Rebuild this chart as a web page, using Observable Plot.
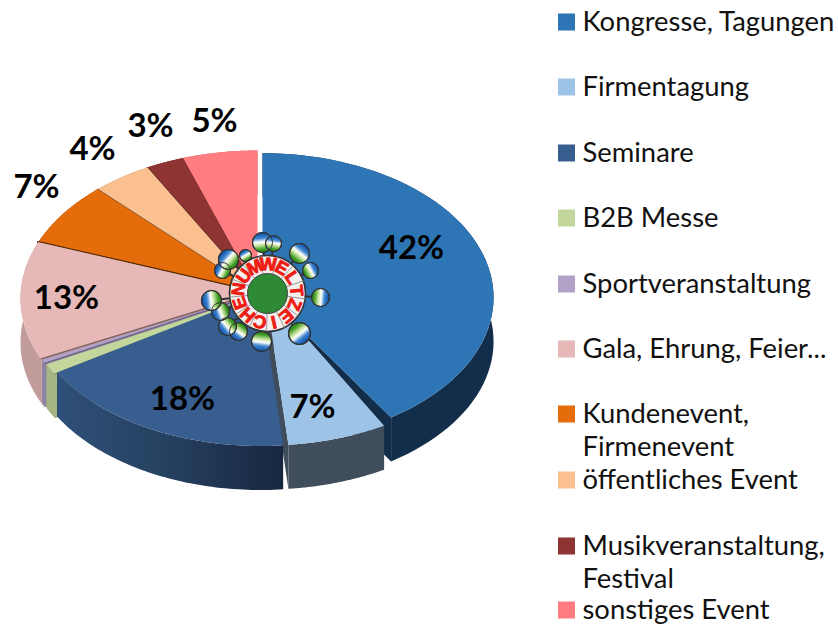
<!DOCTYPE html>
<html><head><meta charset="utf-8">
<script src="https://cdn.jsdelivr.net/npm/d3@7"></script>
<script src="https://cdn.jsdelivr.net/npm/@observablehq/plot@0.6"></script>
<style>html,body{margin:0;padding:0;background:#fff}svg{display:block}</style>
</head><body><div id="chart"></div>
<script>
// ---- data ----
const categories = ["Kongresse, Tagungen","Firmentagung","Seminare","B2B Messe","Sportveranstaltung","Gala, Ehrung, Feier...","Kundenevent,\nFirmenevent","öffentliches Event","Musikveranstaltung,\nFestival","sonstiges Event"];
const shares = [41.67, 6.8, 18.25, 1.2, 0.4, 12.9, 7, 4.1, 2.6, 5.1];
const labels = ["42%","7%","18%","","","13%","7%","4%","3%","5%"];
const colors = ["#2e75b6","#9dc3e6","#375e8f","#c3d69b","#b2a2c7","#e6b9b8","#e46c0a","#fac090","#8e3533","#ff7c80"];
const wallColors = ["#132e4b","#3f4d5c","url(#semWall)","#a6b584","#8f83a3","#c29c9b","#8a4a10","#c09070","#5e2322","#c05f61"];
const edgeColors = ["none","none","none","#7f8f5a","#6e6484","#7d5f5e","#5a2c05","#6b5545","#4e2322","none"];
const legendY = [22,87,153,218,284,349,414,480,546,610];
const logoWord = "UMWELTZEICHEN";

// ---- layout (pixels) ----
const W = 838, H = 624;
const pie = {vx:257, vy:292, cx:257, cy:298, rx:237, ry:148, depth:44};
// dx, dy, radius factor, degrees trimmed from the end of the slice
const explode = [[5,-1,.975,3.8],[8,-1,1,0],[3,1,.99,0],[3,2,1,0],[1,1,1,0],[0,0,1,0],[0,0,1,0],[0,0,1,0],[0,0,1,0],[0,0,1,0]];
const labelPos = [[411,248],[312,407],[182,399],null,null,[66,298],[36,187],[92,149],[150,126],[214,121]];
const drawOrder = [9,8,7,6,5,4,3,0,1,2];
const logo = {x:267, y:293, rOuter:38, rInner:20, rText:29};
const globes = [[262,242,10],[273,243,8],[299,253,10],[310,270,8],[320,297,9],[299,333,11],[261,341,10],[238,331,9],[227,326,9],[220,311,9],[211,300,10],[222,270,8],[228,259,10],[245,255,6]];

const total = d3.sum(shares);
const cum = d3.cumsum(shares);
const slices = shares.map((s,i)=>{
  const [dx,dy,k,trim] = explode[i];
  const a0 = (i?cum[i-1]:0)/total*2*Math.PI, a1 = cum[i]/total*2*Math.PI - trim*Math.PI/180;
  const rim = d3.range(0,61).map(j=>{
    const a = a0+(a1-a0)*j/60;
    return {x:pie.cx+dx+pie.rx*k*Math.sin(a), y:pie.cy+dy-pie.ry*k*Math.cos(a)};
  });
  return {i, rim, vertex:{x:pie.vx+dx, y:pie.vy+dy}};
});
const poly = (pts,o)=>Plot.line([...pts,pts[0]],{x:"x",y:"y",curve:"linear",strokeLinejoin:"round",...o});
const down = p=>({x:p.x,y:p.y+pie.depth});

const marks = [];
marks.push(()=>{
  const defs = d3.create("svg:defs");
  const g = defs.append("linearGradient").attr("id","semWall").attr("gradientUnits","userSpaceOnUse")
    .attr("x1",55).attr("y1",0).attr("x2",285).attr("y2",0);
  g.append("stop").attr("offset",0).attr("stop-color","#2f5079");
  g.append("stop").attr("offset",.5).attr("stop-color","#25405f");
  g.append("stop").attr("offset",1).attr("stop-color","#17263f");
  globes.forEach(([x,y],i)=>{
    const dx=x-logo.x, dy=y-logo.y, n=Math.hypot(dx,dy);
    const lg = defs.append("linearGradient").attr("id","globe"+i)
      .attr("x1",.5+.5*dx/n).attr("y1",.5+.5*dy/n).attr("x2",.5-.5*dx/n).attr("y2",.5-.5*dy/n);
    [[0,"#0a4aa8"],[.28,"#3f86d0"],[.47,"#ffffff"],[.6,"#d2eaac"],[.85,"#3d9a22"],[1,"#2a8a18"]].forEach(([o,c])=>
      lg.append("stop").attr("offset",o).attr("stop-color",c));
  });
  return defs.node();
});

for (const i of drawOrder){
  const s = slices[i], r = s.rim, first=r[0], last=r[r.length-1];
  const wall = wallColors[i];
  if (i!==2) marks.push(poly([s.vertex,first,down(first),down(s.vertex)],{fill:wall,stroke:"none"}));
  if (i!==2) marks.push(poly([s.vertex,last,down(last),down(s.vertex)],{fill:wall,stroke:"none"}));
  marks.push(poly([...r,...r.map(down).reverse()],{fill:wall,stroke:"none"}));
  marks.push(poly([s.vertex,...r],{fill:colors[i],stroke:"none"}));
  if (edgeColors[i]!=="none") marks.push(Plot.line([s.vertex,first],{x:"x",y:"y",stroke:edgeColors[i],strokeWidth:i===6?2.6:1.3}));
}

// value labels
const labelRows = labels.map((t,i)=>({t,p:labelPos[i]})).filter(d=>d.t);
marks.push(Plot.text(labelRows,{x:d=>d.p[0],y:d=>d.p[1],text:"t",fontSize:33,fontWeight:"bold",fontFamily:"Lato",fill:"#000"}));

// logo
marks.push(Plot.link(globes,{x1:()=>logo.x,y1:()=>logo.y,x2:d=>d[0],y2:d=>d[1],stroke:"#333",strokeWidth:2}));
globes.forEach((g,i)=>marks.push(Plot.dot([g],{x:d=>d[0],y:d=>d[1],r:d=>d[2],fill:`url(#globe${i})`,stroke:"#333",strokeWidth:1.2})));
marks.push(Plot.dot(globes,{x:d=>d[0],y:d=>d[1],r:d=>d[2],fill:"none",stroke:"#333",strokeWidth:1}));
marks.push(Plot.dot([logo],{x:"x",y:"y",r:()=>logo.rOuter,fill:"#f3f0ee",stroke:"#333",strokeWidth:1.6}));
const letters = [...logoWord].map((c,i)=>{
  const deg = 306+i*27.7;
  const a = deg*Math.PI/180;
  return {c,deg,x:logo.x+logo.rText*Math.sin(a),y:logo.y-logo.rText*Math.cos(a),
    x2:logo.x+logo.rOuter*Math.sin(a+.24),y2:logo.y-logo.rOuter*Math.cos(a+.24),
    x1:logo.x+logo.rInner*Math.sin(a+.24),y1:logo.y-logo.rInner*Math.cos(a+.24)};
});
marks.push(Plot.link(letters,{x1:"x1",y1:"y1",x2:"x2",y2:"y2",stroke:"#999",strokeWidth:1}));
marks.push(Plot.text(letters,{x:"x",y:"y",text:"c",rotate:"deg",fontSize:18,fontWeight:"bold",fontFamily:"Liberation Sans",fill:"#ee1c12",stroke:"#ee1c12",strokeWidth:.9}));
marks.push(Plot.dot([logo],{x:"x",y:"y",r:()=>logo.rInner,fill:"#2f8a35",stroke:"#444",strokeWidth:1}));

// legend
const legend = categories.map((c,i)=>({c,y:legendY[i],col:colors[i]}));
marks.push(Plot.rect(legend,{x1:()=>558,x2:()=>575,y1:d=>d.y-8.5,y2:d=>d.y+8.5,fill:"col"}));
const legendRows = legend.flatMap(d=>d.c.split("\n").map((t,j)=>({t,y:d.y+j*33})));
marks.push(Plot.text(legendRows,{x:()=>582,y:"y",text:"t",textAnchor:"start",fontSize:27.4,fontFamily:"Lato",fill:"#111"}));

const plot = Plot.plot({width:W,height:H,margin:0,
  x:{domain:[0,W],range:[0,W],axis:null},
  y:{domain:[0,H],range:[0,H],axis:null},
  color:{type:"identity"},
  r:{type:"identity"},
  marks});
document.getElementById("chart").append(plot);
</script></body></html>
